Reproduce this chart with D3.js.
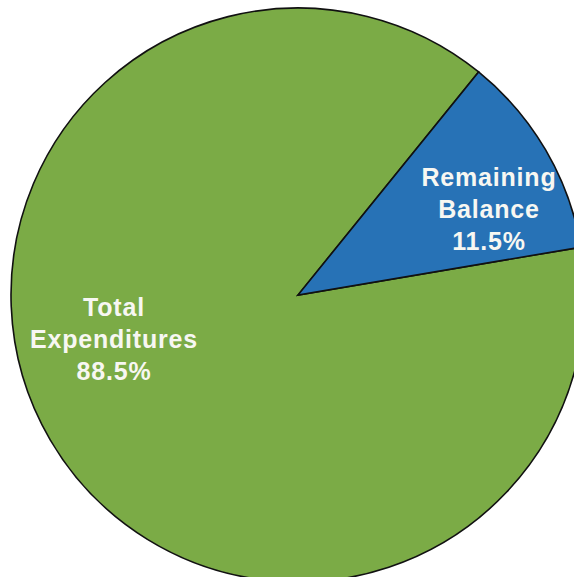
<!DOCTYPE html>
<html>
<head>
<meta charset="utf-8">
<script src="https://cdn.jsdelivr.net/npm/d3@7"></script>
<style>
  html, body { margin: 0; padding: 0; background: #fff; }
  svg { display: block; }
</style>
</head>
<body>
<svg id="chart" width="574" height="577"></svg>
<script>
// Data
const categories = ["Total Expenditures", "Remaining Balance"];
const values = [88.5, 11.5];
const labelLines = [["Total", "Expenditures", "88.5%"], ["Remaining", "Balance", "11.5%"]];
const colors = ["#7bab46", "#2772b6"];

// Layout (not data)
const cx = 298, cy = 295, radius = 287;
const startDeg = 80.4;
const labelPos = [{x: 114, y: 339}, {x: 489, y: 209}];

const svg = d3.select("#chart");
const g = svg.append("g").attr("transform", `translate(${cx},${cy})`);

const pie = d3.pie()
  .sort(null)
  .startAngle(startDeg * Math.PI / 180)
  .endAngle(startDeg * Math.PI / 180 + 2 * Math.PI);

const arc = d3.arc().innerRadius(0).outerRadius(radius);

const arcs = pie(values);

g.selectAll("path.slice")
  .data(arcs)
  .enter().append("path")
  .attr("class", "slice")
  .attr("d", arc)
  .attr("fill", (d, i) => colors[i])
  .attr("stroke", "#111")
  .attr("stroke-width", 1.6)
  .attr("stroke-linejoin", "miter");

const lbl = svg.selectAll("text.lbl")
  .data(arcs)
  .enter().append("text")
  .attr("class", "lbl")
  .attr("text-anchor", "middle")
  .attr("font-family", "'Liberation Sans', Arial, sans-serif")
  .attr("font-weight", "bold")
  .attr("font-size", 25)
  .attr("letter-spacing", 0.8)
  .attr("fill", "#f7f7f2")
  .attr("transform", (d, i) => `translate(${labelPos[i].x},${labelPos[i].y})`);

lbl.each(function(d, i) {
  const t = d3.select(this);
  const lines = labelLines[i];
  lines.forEach((line, j) => {
    t.append("tspan")
      .attr("x", 0)
      .attr("y", (j - (lines.length - 1) / 2) * 32 + 9)
      .text(line);
  });
});
</script>
</body>
</html>
